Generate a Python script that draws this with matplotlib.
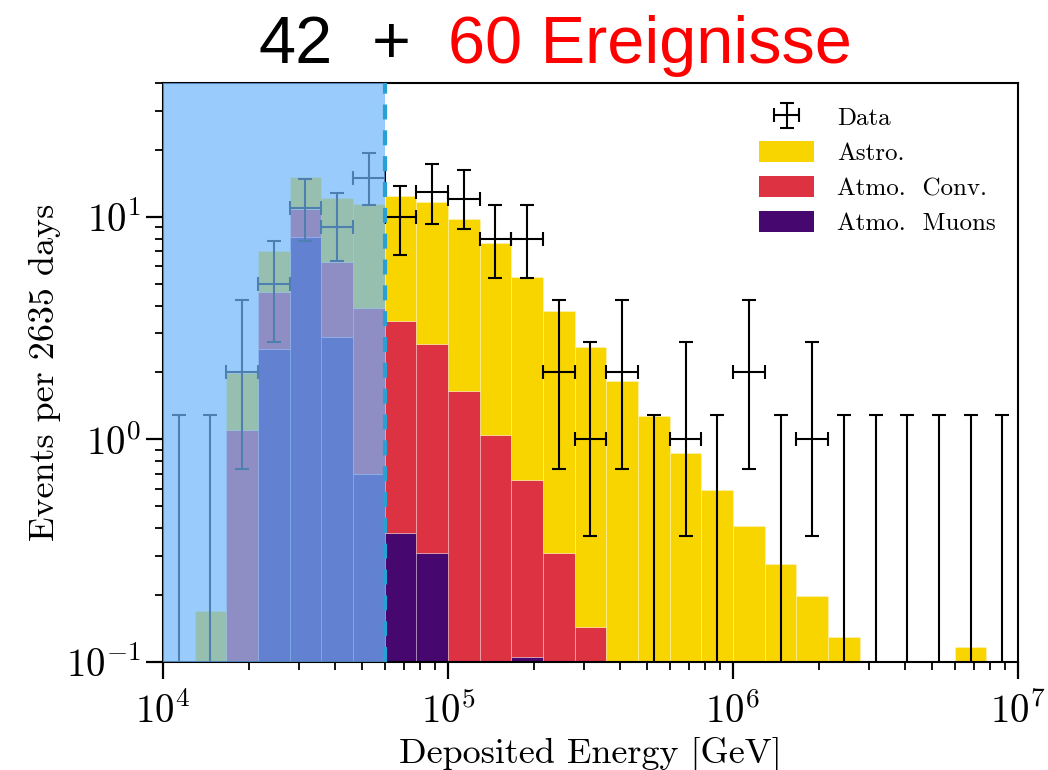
import numpy as np
import matplotlib
matplotlib.use("Agg")
import matplotlib.pyplot as plt
from matplotlib.patches import Patch
from matplotlib.ticker import LogLocator

# 27 log bins from 1e4 to 1e7 GeV
bin_edges = np.logspace(4, 7, 28)

# MC expectation per bin (events), stacked: muons, conv, astro
muons = [0, 0, 0, 2.54, 8.1, 2.9, 0.70, 0.38, 0.31, 0, 0, 0.105, 0,
         0, 0, 0, 0, 0, 0, 0, 0, 0, 0, 0, 0, 0, 0]
conv = [0, 0.04, 1.1, 2.06, 2.8, 3.4, 3.2, 3.02, 2.37, 1.65, 1.05, 0.555, 0.31,
        0.144, 0.07, 0.04, 0.03, 0.02, 0.01, 0, 0, 0, 0, 0, 0, 0, 0]
astro = [0, 0.13, 0.88, 2.4, 4.2, 5.9, 7.5, 9.0, 9.02, 8.15, 6.55, 4.74, 3.45,
         2.46, 1.76, 1.23, 0.835, 0.57, 0.40, 0.277, 0.198, 0.13, 0.08, 0.06,
         0.05, 0.117, 0.04]

# observed events and 68% intervals
data_counts = [0, 0, 2, 5, 11, 9, 15, 10, 13, 12, 8, 8, 2, 1, 2, 0, 1, 0, 2,
               0, 1, 0, 0, 0, 0, 0, 0]
data_lo = [0, 0, 0.74, 2.75, 7.81, 6.33, 11.32, 6.78, 9.28, 8.83, 5.30, 5.30,
           0.74, 0.37, 0.74, 0, 0.37, 0, 0.74, 0, 0.37, 0, 0, 0, 0, 0, 0]
data_hi = [1.29, 1.29, 4.25, 7.81, 14.82, 12.79, 19.32, 13.81, 17.30, 16.29,
           11.32, 11.32, 4.25, 2.75, 4.25, 1.29, 2.75, 1.29, 4.25, 1.29, 2.75,
           1.29, 1.29, 1.29, 1.29, 1.29, 1.29]

e_cut = bin_edges[7]  # ~6e4 GeV threshold

c_astro = "#f9d500"
c_conv = "#dc3242"
c_muon = "#46076e"
c_shade = "#6eb6fc"
c_cut = "#28a0d4"

plt.rcParams["font.family"] = "cmr10"
plt.rcParams["mathtext.fontset"] = "cm"
plt.rcParams["axes.formatter.use_mathtext"] = True
plt.rcParams["axes.unicode_minus"] = False

fig = plt.figure(figsize=(10.48, 7.70), dpi=100)
ax = fig.add_axes([0.1555, 0.1403, 0.8159, 0.7519])

left = bin_edges[:-1]
width = np.diff(bin_edges)
mu = np.array(muons)
cv = np.array(conv)
ast = np.array(astro)
seam = (1, 1, 1, 0.35)
ax.bar(left, mu, width=width, align="edge", color=c_muon, edgecolor=seam, lw=0.6, zorder=1)
ax.bar(left, cv, width=width, bottom=mu, align="edge", color=c_conv, edgecolor=seam, lw=0.6, zorder=1)
ax.bar(left, ast, width=width, bottom=mu + cv, align="edge", color=c_astro, edgecolor=seam, lw=0.6, zorder=1)

centers = np.sqrt(bin_edges[:-1] * bin_edges[1:])
n = np.array(data_counts, dtype=float)
lo = np.array(data_lo)
hi = np.array(data_hi)
nz = n > 0
data_h = ax.errorbar(centers[nz], n[nz],
                     xerr=[centers[nz] - bin_edges[:-1][nz], bin_edges[1:][nz] - centers[nz]],
                     yerr=[n[nz] - lo[nz], hi[nz] - n[nz]],
                     fmt="none", ecolor="black", elinewidth=1.5, capsize=5, capthick=1.5, zorder=3)
z = ~nz
ax.errorbar(centers[z], hi[z], yerr=[hi[z] - 1e-3, np.zeros(z.sum())],
            fmt="none", ecolor="black", elinewidth=1.5, capsize=5, capthick=1.5, zorder=3)

# excluded low-energy region
ax.axvspan(1e4, e_cut, color=c_shade, alpha=0.7, lw=0, zorder=4)
ax.axvline(e_cut, color=c_cut, lw=3, dashes=(3.6, 2.6), zorder=5)

ax.set_xscale("log")
ax.set_yscale("log")
ax.set_xlim(1e4, 1e7)
ax.set_ylim(0.1, 40)
ax.yaxis.set_minor_locator(LogLocator(base=10, subs=np.arange(2, 10)))
ax.xaxis.set_minor_locator(LogLocator(base=10, subs=np.arange(2, 10)))
ax.tick_params(which="major", length=12, width=1.6, labelsize=28, direction="out")
ax.tick_params(which="minor", length=6, width=1.3, direction="out")
ax.tick_params(axis="x", pad=10)
for s in ax.spines.values():
    s.set_linewidth(1.5)

ax.set_xlabel("Deposited Energy [GeV]", fontsize=26)
ax.set_ylabel("Events per 2635 days", fontsize=26)

handles = [data_h, Patch(facecolor=c_astro), Patch(facecolor=c_conv), Patch(facecolor=c_muon)]
leg = ax.legend(handles, ["Data", "Astro.", "Atmo.  Conv.", "Atmo.  Muons"],
                loc="upper right", fontsize=18, frameon=False,
                handlelength=2.2, handleheight=0.9, handletextpad=0.9,
                labelspacing=0.45, borderaxespad=0.5)
leg.set_zorder(10)

fig.text(0.2462, 0.918, "42", fontsize=48, family="Liberation Sans", color="black")
fig.text(0.373, 0.918, "+", fontsize=48, family="Liberation Sans", color="black", ha="center")
fig.text(0.4275, 0.918, "60 Ereignisse", fontsize=48, family="Liberation Sans", color="#ff0000")

fig.savefig("out.png", dpi=100)
